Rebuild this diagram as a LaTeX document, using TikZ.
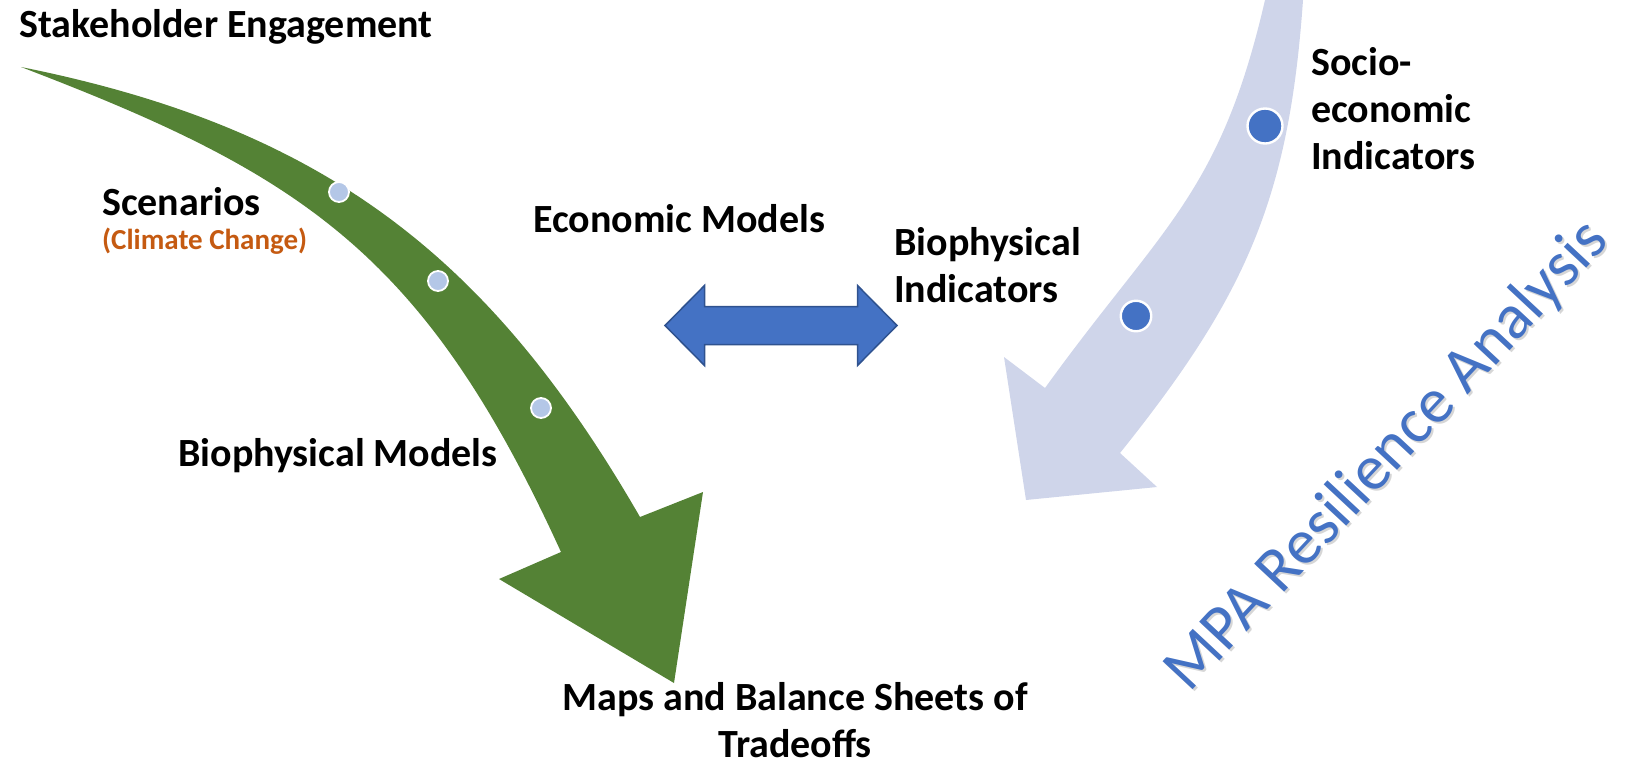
\documentclass[tikz,border=0pt]{standalone}
\usepackage{fontspec}
\setmainfont{Carlito}
\definecolor{leafgreen}{HTML}{548235}
\definecolor{paleblue}{HTML}{CFD5EA}
\definecolor{accentblue}{HTML}{4472C4}
\definecolor{edgeblue}{HTML}{2F528F}
\definecolor{dotlight}{HTML}{B4C7E7}
\definecolor{burnt}{HTML}{C55A11}
\tikzset{
  lbl/.style={font=\bfseries\fontsize{40}{47}\selectfont, inner sep=0pt, align=left, anchor=base west},
  sublbl/.style={font=\bfseries\fontsize{29}{34}\selectfont, inner sep=0pt, anchor=base west, text=burnt},
  gdot/.style={circle, fill=dotlight, draw=white, line width=1.8pt, minimum size=20pt, inner sep=0pt},
  bdot/.style={circle, fill=accentblue, draw=white, line width=2.4pt, inner sep=0pt},
  title/.style={font=\fontsize{64}{72}\selectfont, inner sep=0pt, anchor=base, rotate=47}
}
\begin{document}
\begin{tikzpicture}[x=1pt,y=-1pt]
\useasboundingbox (0,0) rectangle (1627,761);
\clip (0,0) rectangle (1627,761);

% green curved arrow: outer edge, head, inner edge back to the tail point
\fill[leafgreen]
  (21,67) .. controls (325,128) and (490,257) .. (640,517)
  -- (703,492) -- (674,683) -- (499,579) -- (561,552)
  .. controls (424,252) and (301,174) .. (21,67) -- cycle;

% pale blue curved arrow entering from the top
\fill[paleblue]
  (1270,-20) -- (1265,0) .. controls (1220,195) and (1162,226) .. (1045,388)
  -- (1004,357) -- (1026,500) -- (1157,487) -- (1120,453)
  .. controls (1245,297) and (1289,200) .. (1303,0) -- (1304,-20) -- cycle;

% two-headed arrow between the models and the indicators
\coordinate (dl) at (665,325.5);
\coordinate (dr) at (897,325.5);
\filldraw[fill=accentblue, draw=edgeblue, line width=1.5pt, line join=miter]
  (dl) -- (704.5,285.5) -- (704.5,306.5) -- (857.5,306.5) -- (857.5,285.5)
  -- (dr) -- (857.5,365.5) -- (857.5,344.5) -- (704.5,344.5) -- (704.5,365.5) -- cycle;

% markers on the arrows
\node[gdot] (g1) at (339,192) {};
\node[gdot] (g2) at (438,281) {};
\node[gdot] (g3) at (541,408) {};
\node[bdot, minimum size=35pt] (b1) at (1265,126) {};
\node[bdot, minimum size=30.5pt] (b2) at (1136,316) {};

% labels (multi-line ones are placed by the baseline of their last line)
\node[lbl] (stake) at (19,37) {Stakeholder Engagement};
\node[lbl] (scen) at (102,215) {Scenarios};
\node[sublbl] (clim) at (102,249) {(Climate Change)};
\node[lbl] (econ) at (533,232) {Economic Models};
\node[lbl] (bioind) at (894,302) {Biophysical\\Indicators};
\node[lbl] (socio) at (1311,169) {Socio-\\economic\\Indicators};
\node[lbl] (biomod) at (178,466) {Biophysical Models};
\node[lbl, align=center, anchor=base] (maps) at (795,757) {Maps and Balance Sheets of\\Tradeoffs};

% rotated heading with a soft drop shadow
\node[title, text=black, opacity=0.16] (mpashadow) at (1402,470) {MPA Resilience Analysis};
\node[title, text=accentblue] (mpa) at (1400,468) {MPA Resilience Analysis};
\end{tikzpicture}
\end{document}
